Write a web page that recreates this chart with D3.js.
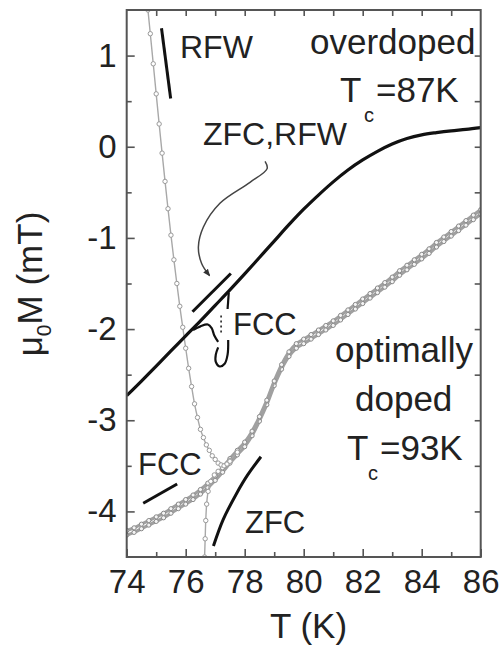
<!DOCTYPE html>
<html><head><meta charset="utf-8">
<script src="https://cdn.jsdelivr.net/npm/d3@7"></script>
<style>
html,body{margin:0;padding:0;background:#fff;}
svg{display:block;font-family:"Liberation Sans",Arial,Helvetica,sans-serif;}
</style></head><body>
<svg id="chart" width="501" height="646"></svg>
<script>
// ---------- tick values ----------
const xMajorTicks = [74, 76, 78, 80, 82, 84, 86];
const xMinorTicks = [75, 77, 79, 81, 83, 85];
const xTopTicks = [75, 76, 77, 78, 79, 80, 81, 82, 83, 84, 85];
const yMajorTicks = [-4, -3, -2, -1, 0, 1];
const yMinorTicks = [-3.5, -2.5, -1.5, -0.5, 0.5];
const yRightTicks = [-4, -3.5, -3, -2.5, -2, -1.5, -1, -0.5, 0, 0.5, 1];

// ---------- overdoped (Tc = 87 K), black ----------
const odT = [74, 74.5, 75, 75.5, 76, 76.5, 77, 77.5, 78, 78.5, 79, 79.5, 80, 80.5, 81, 81.5, 82, 82.5, 83, 83.5, 84, 84.5, 85, 85.5, 86];
const odM = [-2.73, -2.57, -2.405, -2.24, -2.075, -1.91, -1.74, -1.57, -1.395, -1.215, -1.035, -0.855, -0.685, -0.53, -0.385, -0.255, -0.145, -0.05, 0.03, 0.09, 0.13, 0.155, 0.175, 0.19, 0.21];
// overdoped FCC jump feature
const odFccJumpT = [77.46, 77.42];
const odFccJumpM = [-1.60, -1.78];
const odFccDotsT = [77.2, 77.2];
const odFccDotsM = [-1.85, -2.06];
const odFccHookT = [76.25, 76.5, 76.75, 76.88, 76.97, 77.1];
const odFccHookM = [-2.01, -1.97, -1.95, -1.99, -2.07, -2.14];
const odFccLoopT = [77.1, 77.02, 77.02, 77.15, 77.32, 77.42, 77.44];
const odFccLoopM = [-2.2, -2.28, -2.36, -2.41, -2.38, -2.28, -2.12];

// ---------- optimally doped (Tc = 93 K), grey ----------
const optFccT = [74, 74.25, 74.5, 74.75, 75, 75.25, 75.5, 75.75, 76, 76.25, 76.5, 76.75, 77, 77.25, 77.5, 77.75, 78, 78.25, 78.5, 78.75, 79, 79.25, 79.5, 79.75, 80, 80.25, 80.5, 80.75, 81, 81.25, 81.5, 81.75, 82, 82.25, 82.5, 82.75, 83, 83.25, 83.5, 83.75, 84, 84.25, 84.5, 84.75, 85, 85.25, 85.5, 85.75, 86];
const optFccM = [-4.26, -4.23, -4.19, -4.15, -4.11, -4.07, -4.02, -3.97, -3.92, -3.87, -3.81, -3.74, -3.66, -3.57, -3.47, -3.38, -3.29, -3.17, -3.01, -2.83, -2.62, -2.44, -2.30, -2.21, -2.16, -2.11, -2.06, -2.01, -1.96, -1.90, -1.84, -1.78, -1.72, -1.66, -1.60, -1.54, -1.48, -1.41, -1.35, -1.29, -1.23, -1.17, -1.10, -1.04, -0.98, -0.92, -0.86, -0.80, -0.74];
const optFcwT = [74, 74.25, 74.5, 74.75, 75, 75.25, 75.5, 75.75, 76, 76.25, 76.5, 76.75, 77, 77.25, 77.5, 77.75, 78, 78.25, 78.5, 78.75, 79, 79.25, 79.5, 79.75, 80, 80.25, 80.5, 80.75, 81, 81.25, 81.5, 81.75, 82, 82.25, 82.5, 82.75, 83, 83.25, 83.5, 83.75, 84, 84.25, 84.5, 84.75, 85, 85.25, 85.5, 85.75, 86];
const optFcwM = [-4.21, -4.18, -4.14, -4.10, -4.06, -4.02, -3.97, -3.92, -3.87, -3.82, -3.76, -3.69, -3.61, -3.52, -3.42, -3.33, -3.24, -3.12, -2.96, -2.78, -2.57, -2.39, -2.25, -2.16, -2.11, -2.06, -2.01, -1.96, -1.91, -1.85, -1.79, -1.73, -1.67, -1.61, -1.55, -1.49, -1.43, -1.36, -1.30, -1.24, -1.18, -1.12, -1.05, -0.99, -0.93, -0.87, -0.81, -0.75, -0.69];
const optZfcT = [76.64, 76.66, 76.68, 76.71, 76.76, 76.85, 76.97, 77.1, 77.25, 77.5, 77.75];
const optZfcM = [-4.5, -4.3, -4.1, -3.92, -3.78, -3.67, -3.6, -3.56, -3.52, -3.44, -3.35];
const optRfwT = [74.72, 74.8, 74.9, 75.0, 75.1, 75.2, 75.3, 75.4, 75.5, 75.6, 75.7, 75.8, 75.9, 76.0, 76.1, 76.2, 76.3, 76.4, 76.5, 76.6, 76.7, 76.8, 76.9, 77.0, 77.1, 77.2, 77.3, 77.4, 77.5];
const optRfwM = [1.5, 1.24, 0.91, 0.58, 0.25, -0.07, -0.38, -0.68, -0.97, -1.24, -1.50, -1.75, -1.98, -2.21, -2.43, -2.63, -2.82, -2.97, -3.10, -3.19, -3.27, -3.33, -3.39, -3.43, -3.47, -3.49, -3.50, -3.48, -3.45];

// ---------- annotation strokes (data coordinates) ----------
const rfwArrowT = [75.18, 75.49];
const rfwArrowM = [1.30, 0.53];
const zfcRfwBarT = [76.23, 77.53];
const zfcRfwBarM = [-1.81, -1.39];
const fccBarT = [74.56, 75.71];
const fccBarM = [-3.91, -3.70];
const zfcCurveT = [76.94, 77.27, 77.73, 78.1, 78.55];
const zfcCurveM = [-4.38, -4.09, -3.80, -3.60, -3.40];
const curlT = [78.69, 78.76, 78.18, 77.16, 76.60, 76.43, 76.54, 76.80];
const curlM = [-0.16, -0.24, -0.39, -0.62, -0.88, -1.10, -1.28, -1.41];

const zip = (a, b) => a.map((v, i) => [v, b[i]]);

const svg = d3.select("#chart");
const L = 126.7, R = 480.7, T = 10, B = 557;
const x = d3.scaleLinear().domain([74, 86]).range([L, R]);
const y = d3.scaleLinear().domain([-4.5, 1.5]).range([B, T]);
const axisColor = "#555";
const textColor = "#222";

// ---------- axes ----------
function styleAxis(g) {
  g.select(".domain").remove();
  g.selectAll(".tick line").attr("stroke", axisColor).attr("stroke-width", 1.6);
  g.attr("font-family", null).attr("font-size", 33);
  g.selectAll(".tick text").attr("fill", textColor);
}
svg.append("g").attr("transform", `translate(0,${B})`)
  .call(d3.axisBottom(x).tickValues(xMajorTicks).tickSizeInner(-8).tickSizeOuter(0).tickPadding(13).tickFormat(d => String(d)))
  .call(styleAxis);
svg.append("g").attr("transform", `translate(0,${B})`)
  .call(d3.axisBottom(x).tickValues(xMinorTicks).tickSizeInner(-5).tickSizeOuter(0).tickFormat(""))
  .call(styleAxis);
svg.append("g").attr("transform", `translate(0,${T})`)
  .call(d3.axisTop(x).tickValues(xTopTicks).tickSizeInner(-6).tickSizeOuter(0).tickFormat(""))
  .call(styleAxis);
svg.append("g").attr("transform", `translate(${L},0)`)
  .call(d3.axisLeft(y).tickValues(yMajorTicks).tickSizeInner(-8).tickSizeOuter(0).tickPadding(10).tickFormat(d => String(d)))
  .call(styleAxis);
svg.append("g").attr("transform", `translate(${L},0)`)
  .call(d3.axisLeft(y).tickValues(yMinorTicks).tickSizeInner(-5).tickSizeOuter(0).tickFormat(""))
  .call(styleAxis);
svg.append("g").attr("transform", `translate(${R},0)`)
  .call(d3.axisRight(y).tickValues(yRightTicks).tickSizeInner(-6).tickSizeOuter(0).tickFormat(""))
  .call(styleAxis);

// ---------- clip ----------
svg.append("clipPath").attr("id", "clip").append("rect")
  .attr("x", L).attr("y", T).attr("width", R - L).attr("height", B - T);
const plot = svg.append("g").attr("clip-path", "url(#clip)");

const line = d3.line().x(d => x(d[0])).y(d => y(d[1]));
const smooth = d3.line().x(d => x(d[0])).y(d => y(d[1])).curve(d3.curveCatmullRom.alpha(0.5));

// optimally doped grey band (FCC and FCW)
[[optFccT, optFccM], [optFcwT, optFcwM]].forEach(([tt, mm]) => {
  const pts = zip(tt, mm);
  plot.append("path").attr("d", smooth(pts)).attr("fill", "none")
    .attr("stroke", "#a0a0a0").attr("stroke-width", 3.2);
  plot.selectAll(null).data(pts).enter().append("circle")
    .attr("cx", d => x(d[0])).attr("cy", d => y(d[1])).attr("r", 2.1)
    .attr("fill", "#f4f4f4").attr("stroke", "#8a8a8a").attr("stroke-width", 1);
});
// optimally doped ZFC and RFW (thin grey with open circles)
[[optZfcT, optZfcM], [optRfwT, optRfwM]].forEach(([tt, mm]) => {
  const pts = zip(tt, mm);
  plot.append("path").attr("d", smooth(pts)).attr("fill", "none")
    .attr("stroke", "#a8a8a8").attr("stroke-width", 1.4);
  plot.selectAll(null).data(pts).enter().append("circle")
    .attr("cx", d => x(d[0])).attr("cy", d => y(d[1])).attr("r", 2.2)
    .attr("fill", "#fff").attr("stroke", "#999").attr("stroke-width", 1);
});

// overdoped black curve
plot.append("path").attr("d", d3.line().x(d => x(d[0])).y(d => y(d[1])).curve(d3.curveMonotoneX)(zip(odT, odM)))
  .attr("fill", "none").attr("stroke", "#111").attr("stroke-width", 3.2);
plot.append("path").attr("d", line(zip(odFccJumpT, odFccJumpM))).attr("fill", "none")
  .attr("stroke", "#111").attr("stroke-width", 2.2);
plot.append("path").attr("d", line(zip(odFccDotsT, odFccDotsM))).attr("fill", "none")
  .attr("stroke", "#222").attr("stroke-width", 1.6).attr("stroke-dasharray", "2,3");
plot.append("path").attr("d", smooth(zip(odFccHookT, odFccHookM))).attr("fill", "none")
  .attr("stroke", "#111").attr("stroke-width", 2.2);
plot.append("path").attr("d", smooth(zip(odFccLoopT, odFccLoopM))).attr("fill", "none")
  .attr("stroke", "#111").attr("stroke-width", 2.2);

// ---------- annotation strokes ----------
const defs = svg.append("defs");
defs.append("marker").attr("id", "ah").attr("viewBox", "0 0 10 10").attr("refX", 8).attr("refY", 5)
  .attr("markerWidth", 5).attr("markerHeight", 5).attr("orient", "auto")
  .append("path").attr("d", "M0,1 L10,5 L0,9 z").attr("fill", "#333");

svg.append("path").attr("d", line(zip(rfwArrowT, rfwArrowM))).attr("fill", "none")
  .attr("stroke", "#111").attr("stroke-width", 3);
svg.append("path").attr("d", line(zip(zfcRfwBarT, zfcRfwBarM))).attr("fill", "none")
  .attr("stroke", "#111").attr("stroke-width", 3);
svg.append("path").attr("d", line(zip(fccBarT, fccBarM))).attr("fill", "none")
  .attr("stroke", "#111").attr("stroke-width", 3);
svg.append("path").attr("d", smooth(zip(zfcCurveT, zfcCurveM))).attr("fill", "none")
  .attr("stroke", "#111").attr("stroke-width", 3);
svg.append("path").attr("d", smooth(zip(curlT, curlM))).attr("fill", "none")
  .attr("stroke", "#444").attr("stroke-width", 1.5).attr("marker-end", "url(#ah)");

// ---------- frame ----------
svg.append("rect").attr("x", L).attr("y", T).attr("width", R - L).attr("height", B - T)
  .attr("fill", "none").attr("stroke", axisColor).attr("stroke-width", 2);

// ---------- text ----------
function txt(str, px, py, size, anchor) {
  return svg.append("text").attr("x", px).attr("y", py).attr("font-size", size)
    .attr("fill", textColor).attr("text-anchor", anchor || "start").text(str);
}
txt("RFW", 180, 58, 32);
txt("ZFC,RFW", 203, 145, 32);
txt("overdoped", 310, 54, 35);
txt("T", 340, 102, 35);
txt("c", 364, 122, 20);
txt("=87K", 376, 102, 35);
txt("FCC", 233, 335, 31);
txt("optimally", 335, 362, 35);
txt("doped", 355, 411, 35);
txt("T", 347, 460, 35);
txt("c", 368, 480, 20);
txt("=93K", 380, 460, 35);
txt("FCC", 138, 475, 31);
txt("ZFC", 245, 533, 31);
txt("T (K)", 308.5, 638, 35, "middle");

const yt = svg.append("text").attr("transform", "translate(42,284) rotate(-90)")
  .attr("text-anchor", "middle").attr("font-size", 35).attr("fill", textColor);
yt.append("tspan").text("\u03bc");
yt.append("tspan").attr("font-size", 21).attr("dy", 9).text("0");
yt.append("tspan").attr("dy", -9).text("M (mT)");
</script>
</body></html>
